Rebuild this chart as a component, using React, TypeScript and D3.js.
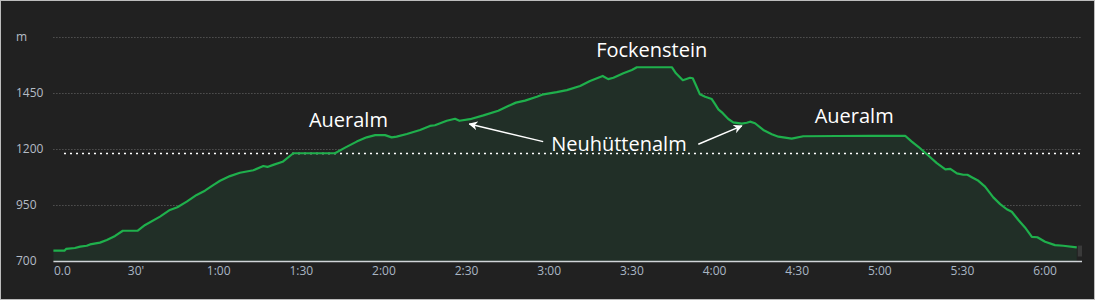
import React from "react";
import * as d3 from "d3";

// elapsed time (minutes) and elevation (m) read from the profile
const timeMin = [0,4,4.6,7.8,9.7,12.1,13.3,16.9,19.4,22.4,25.2,30.5,33.3,38.7,42.3,45,48.4,52,55,58,60.5,64.1,67.7,72.6,76.2,77.7,79.8,83.2,87.1,102.2,105.9,110.1,113.7,116.8,120.4,122.8,124.6,128.3,133.1,136.7,138.5,142.8,145.8,147.4,151.2,156.1,161.5,165.1,167.9,171.2,175.5,177.9,182.7,186.4,191.2,194.8,199.4,201.4,203.3,206.9,210,211.8,224.5,226,228.5,231.1,232.1,233.5,234.7,236.6,239,240.2,241.4,243,245,246.8,249.9,251.7,252.9,254.7,257.7,260.8,263.2,268,272.2,284.4,296.5,309.2,311.6,314,317.7,320.7,323.8,325.6,328,330.3,331.8,333.4,335.8,338.2,341.2,343.7,346.1,347.9,350.3,352.7,355.2,357.2,360,363.6,366.6,371.5];
const elevation = [746,746,754,758,764,768,774,782,794,812,835,835,861,898,928,940,965,995,1014,1039,1058,1079,1094,1105,1124,1120,1129,1143,1181,1181,1206,1233,1252,1262,1262,1252,1255,1267,1285,1303,1306,1326,1335,1326,1333,1350,1371,1392,1407,1416,1433,1444,1454,1463,1481,1504,1526,1512,1518,1538,1553,1565,1565,1538,1507,1518,1516,1478,1444,1433,1423,1400,1377,1360,1334,1319,1313,1317,1322,1315,1285,1266,1255,1246,1257,1258,1259,1259,1233,1210,1170,1137,1109,1111,1091,1085,1085,1074,1058,1032,984,954,931,920,883,850,808,806,786,771,768,761];

const xTicks = [0,30,60,90,120,150,180,210,240,270,300,330,360];
const xTickLabels = ["0.0","30'","1:00","1:30","2:00","2:30","3:00","3:30","4:00","4:30","5:00","5:30","6:00"];
const yTicks = [700,950,1200,1450,1700];
const yTickLabels = ["700","950","1200","1450","m"];
const refElevation = 1183;
const timeMax = 373.4;

const labelNames = ["Aueralm","Fockenstein","Neuhüttenalm","Aueralm"];
const labelTime = [107.1,217.2,205.3,290.7];
const labelElev = [1300,1612,1192,1315];

const arrowFromTime = [177.8,234.1];
const arrowFromElev = [1233,1221];
const arrowToTime = [151,249.9];
const arrowToElev = [1312,1303];

const W = 1095, H = 300;
const FONT = "'Open Sans', 'Noto Sans', sans-serif";

export default function App() {
  const x = d3.scaleLinear().domain([0, timeMax]).range([53.4, 1082]);
  const y = d3.scaleLinear().domain([700, 1700]).range([261, 37]);
  const n = Math.min(timeMin.length, elevation.length);
  const pts: [number, number][] = d3.range(n).map(i => [timeMin[i], elevation[i]]);
  const area = d3.area<[number, number]>().x(d => x(d[0])).y0(y(700)).y1(d => y(d[1]));
  const line = d3.line<[number, number]>().x(d => x(d[0])).y(d => y(d[1]));
  const [x0, x1] = x.range();
  const lastT = timeMin[n - 1];

  return (
    <div>
      <style>{`body{margin:0;background:#fff}`}</style>
      <svg width={W} height={H} style={{ display: "block" }} fontFamily={FONT}>
        <defs>
          <marker id="ah" viewBox="0 0 10 10" refX="9" refY="5" markerWidth="9" markerHeight="9" markerUnits="userSpaceOnUse" orient="auto">
            <path d="M0,0 L10,5 L0,10 L3,5 Z" fill="#ffffff" />
          </marker>
        </defs>
        <rect x={0.5} y={0.5} width={W - 1} height={H - 1} fill="#212121" stroke="#bdbdbd" strokeWidth={1} />
        {yTicks.map((t, i) => (
          <g key={"y" + i}>
            {i > 0 && (
              <line x1={x0} x2={x1} y1={Math.round(y(t)) + 0.5} y2={Math.round(y(t)) + 0.5}
                stroke="#6a6a6a" strokeWidth={1} strokeDasharray="1,2" />
            )}
            <text x={16} y={y(t) + 4} fontSize={12} fill="#b4bcc6">{yTickLabels[i]}</text>
          </g>
        ))}
        <path d={area(pts) || ""} fill="#212f27" />
        <line x1={64} x2={x1} y1={Math.round(y(refElevation)) + 0.5} y2={Math.round(y(refElevation)) + 0.5}
          stroke="#ffffff" strokeWidth={1.5} strokeDasharray="2,4" />
        <path d={line(pts) || ""} fill="none" stroke="#1fb04c" strokeWidth={2.2} strokeLinejoin="round" />
        <line x1={x0} x2={x1} y1={y(700) + 0.5} y2={y(700) + 0.5} stroke="#d0d4d8" strokeWidth={1.5} />
        <rect x={x(lastT) + 1} y={y(769)} width={x1 - x(lastT) - 1} height={y(720) - y(769)} fill="#3a3a3a" />
        {xTicks.map((t, i) => (
          <text key={"x" + i} x={i === 0 ? x(t) + 0.5 : x(t)} y={275} fontSize={12} fill="#a9b6c4"
            textAnchor={i === 0 ? "start" : "middle"}>{xTickLabels[i]}</text>
        ))}
        {arrowFromTime.map((t, i) => (
          <line key={"a" + i} x1={x(t)} y1={y(arrowFromElev[i])} x2={x(arrowToTime[i])} y2={y(arrowToElev[i])}
            stroke="#ffffff" strokeWidth={1.5} markerEnd="url(#ah)" />
        ))}
        {labelNames.map((s, i) => (
          <text key={"l" + i} x={x(labelTime[i])} y={y(labelElev[i])} fontSize={20} fill="#ffffff" textAnchor="middle">{s}</text>
        ))}
      </svg>
    </div>
  );
}
